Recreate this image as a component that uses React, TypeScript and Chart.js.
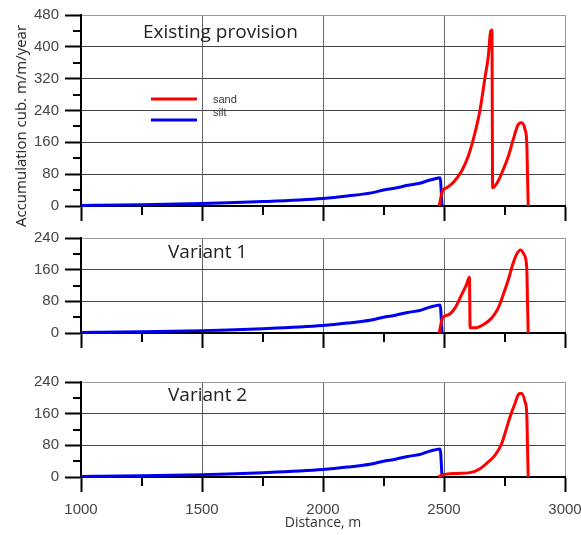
import React, { useEffect, useRef } from 'react';
import { Chart, registerables } from 'chart.js';

Chart.register(...registerables);

// ---- data ----
const xTickValues = [1000, 1500, 2000, 2500, 3000];
const xMinorTicks = [1250, 1750, 2250, 2750];
const yTicksTop = [0, 80, 160, 240, 320, 400, 480];
const yTicksLower = [0, 80, 160, 240];

const seriesNames = ['sand', 'silt'];
const panelTitles = ['Existing provision', 'Variant 1', 'Variant 2'];
const xAxisTitle = 'Distance, m';
const yAxisTitle = 'Accumulation cub. m/m/year';

const siltDistance = [1000, 1050, 1250, 1500, 1750, 2000, 2100, 2200, 2250, 2300, 2350, 2400, 2435, 2460, 2484, 2492];
const siltValues = [1, 2, 3, 6, 11, 19, 25, 33, 40, 45, 52, 57, 64, 68, 71, 0];

const sandExistingDistance = [2480, 2494, 2511, 2538, 2573, 2600, 2628, 2649, 2670, 2683, 2693, 2698, 2701, 2724, 2745, 2766, 2786, 2807, 2821, 2835, 2842, 2845, 2848];
const sandExistingValues = [0, 38, 46, 59, 88, 125, 184, 242, 325, 376, 440, 442, 46, 63, 92, 125, 167, 205, 209, 192, 159, 80, 0];

const sandVariant1Distance = [2480, 2494, 2518, 2545, 2573, 2593, 2605, 2608, 2628, 2662, 2697, 2724, 2745, 2766, 2786, 2803, 2817, 2831, 2842, 2845, 2848];
const sandVariant1Values = [0, 38, 46, 63, 97, 122, 141, 13, 13, 21, 38, 63, 97, 135, 177, 202, 210, 198, 164, 80, 0];

const sandVariant2Distance = [2476, 2497, 2552, 2607, 2649, 2683, 2711, 2738, 2756, 2773, 2793, 2811, 2821, 2835, 2842, 2845, 2848];
const sandVariant2Values = [0, 6, 9, 11, 21, 38, 55, 84, 118, 152, 185, 211, 211, 190, 160, 80, 0];

const RED = '#ff0000';
const BLUE = '#0000ee';

const toPoints = (xs: number[], ys: number[]) => xs.map((x, i) => ({ x, y: ys[i] }));

type Panel = {
  top: number;
  height: number;
  padTop: number;
  xAxisH: number;
  yTicks: number[];
  title: string;
  titleY: number;
  legend: boolean;
  xLabels: boolean;
  sandX: number[];
  sandY: number[];
};

const panels: Panel[] = [
  { top: 0, height: 225, padTop: 15, xAxisH: 19, yTicks: yTicksTop, title: panelTitles[0], titleY: 33, legend: true, xLabels: false, sandX: sandExistingDistance, sandY: sandExistingValues },
  { top: 225, height: 127, padTop: 13, xAxisH: 19, yTicks: yTicksLower, title: panelTitles[1], titleY: 28, legend: false, xLabels: false, sandX: sandVariant1Distance, sandY: sandVariant1Values },
  { top: 360, height: 175, padTop: 22, xAxisH: 58, yTicks: yTicksLower, title: panelTitles[2], titleY: 36, legend: false, xLabels: true, sandX: sandVariant2Distance, sandY: sandVariant2Values },
];

const decorPlugin = {
  id: 'decor',
  afterDraw(chart: any, _args: any, opts: any) {
    const { ctx, chartArea: a, scales } = chart;
    const x = scales.x;
    const y = scales.y;
    ctx.save();
    ctx.strokeStyle = '#000';
    ctx.lineWidth = 2;
    // minor ticks
    xMinorTicks.forEach((v) => {
      const px = Math.round(x.getPixelForValue(v));
      ctx.beginPath();
      ctx.moveTo(px, a.bottom + 1);
      ctx.lineTo(px, a.bottom + 9);
      ctx.stroke();
    });
    const yt: number[] = opts.yTicks;
    for (let i = 0; i < yt.length - 1; i++) {
      const py = Math.round(y.getPixelForValue((yt[i] + yt[i + 1]) / 2));
      ctx.beginPath();
      ctx.moveTo(a.left - 8, py);
      ctx.lineTo(a.left, py);
      ctx.stroke();
    }
    // panel title
    ctx.fillStyle = '#222';
    ctx.font = '19px "Open Sans"';
    ctx.textBaseline = 'middle';
    ctx.textAlign = 'left';
    ctx.fillText(opts.title, opts.titleX, opts.titleY);
    // legend
    if (opts.legend) {
      const ds = chart.data.datasets;
      ctx.lineWidth = 3;
      ctx.strokeStyle = ds[0].borderColor;
      ctx.beginPath();
      ctx.moveTo(151, 99);
      ctx.lineTo(197, 99);
      ctx.stroke();
      ctx.strokeStyle = ds[1].borderColor;
      ctx.beginPath();
      ctx.moveTo(151, 120);
      ctx.lineTo(197, 120);
      ctx.stroke();
      ctx.fillStyle = '#333';
      ctx.font = '11px "Liberation Sans", Arial, sans-serif';
      ctx.fillText(ds[0].label, 213, 100);
      ctx.fillText(ds[1].label, 213, 113);
    }
    ctx.restore();
  },
};

function buildConfig(p: Panel, titleX: number): any {
  const yMax = p.yTicks[p.yTicks.length - 1];
  return {
    type: 'line',
    data: {
      datasets: [
        {
          label: seriesNames[0],
          data: toPoints(p.sandX, p.sandY),
          borderColor: RED,
          borderWidth: 3,
          pointRadius: 0,
          cubicInterpolationMode: 'monotone',
          clip: false,
        },
        {
          label: seriesNames[1],
          data: toPoints(siltDistance, siltValues),
          borderColor: BLUE,
          borderWidth: 3,
          pointRadius: 0,
          cubicInterpolationMode: 'monotone',
          clip: false,
        },
      ],
    },
    options: {
      responsive: false,
      animation: false,
      devicePixelRatio: 1,
      layout: { padding: { top: p.padTop, right: 16, left: 0, bottom: 0 } },
      plugins: {
        legend: { display: false },
        tooltip: { enabled: false },
        decor: { title: p.title, titleX, titleY: p.titleY, legend: p.legend, yTicks: p.yTicks },
      },
      scales: {
        x: {
          type: 'linear',
          min: xTickValues[0],
          max: xTickValues[xTickValues.length - 1],
          afterBuildTicks: (s: any) => {
            s.ticks = xTickValues.map((v) => ({ value: v }));
          },
          afterFit: (s: any) => {
            s.height = p.xAxisH;
            s.paddingLeft = 0;
            s.paddingRight = 0;
          },
          border: { display: true, color: '#000', width: 2 },
          grid: {
            color: (c: any) => {
              const v = c.tick ? c.tick.value : null;
              if (v === xTickValues[0]) return 'rgba(0,0,0,0)';
              if (v === xTickValues[xTickValues.length - 1]) return '#9a9a9a';
              return '#666';
            },
            lineWidth: 1,
            tickLength: 15,
            tickColor: '#000',
            tickWidth: 2,
          },
          ticks: {
            display: p.xLabels,
            padding: 9,
            maxRotation: 0,
            color: '#444',
            font: { family: '"Liberation Sans", Arial, sans-serif', size: 15 },
            callback: (v: any) => String(v),
          },
          title: {
            display: p.xLabels,
            text: xAxisTitle,
            color: '#333',
            font: { family: '"Open Sans", sans-serif', size: 14 },
            padding: { top: 0, bottom: 4 },
          },
        },
        y: {
          type: 'linear',
          min: p.yTicks[0],
          max: yMax,
          afterBuildTicks: (s: any) => {
            s.ticks = p.yTicks.map((v) => ({ value: v }));
          },
          afterFit: (s: any) => {
            s.width = 81;
            s.paddingTop = 0;
            s.paddingBottom = 0;
          },
          border: { display: true, color: '#000', width: 2 },
          grid: {
            color: (c: any) => {
              const v = c.tick ? c.tick.value : null;
              if (v === 0) return '#000';
              if (v === yMax) return '#9a9a9a';
              return '#444';
            },
            lineWidth: 1,
            tickLength: 16,
            tickColor: '#000',
            tickWidth: 2,
          },
          ticks: {
            padding: 6,
            color: '#444',
            font: { family: '"Liberation Sans", Arial, sans-serif', size: 15 },
            callback: (v: any) => String(v),
          },
        },
      },
    },
    plugins: [decorPlugin],
  };
}

export default function App() {
  const r0 = useRef<HTMLCanvasElement>(null);
  const r1 = useRef<HTMLCanvasElement>(null);
  const r2 = useRef<HTMLCanvasElement>(null);
  const refs = [r0, r1, r2];
  const titleXs = [143, 168, 168];

  useEffect(() => {
    const charts = panels.map((p, i) => new Chart(refs[i].current as HTMLCanvasElement, buildConfig(p, titleXs[i])));
    return () => charts.forEach((c) => c.destroy());
  }, []);

  return (
    <div style={{ position: 'absolute', left: 0, top: 0, width: 581, height: 535, background: '#fff', overflow: 'hidden' }}>
      {panels.map((p, i) => (
        <canvas
          key={i}
          ref={refs[i]}
          width={581}
          height={p.height}
          style={{ position: 'absolute', left: 0, top: p.top, width: 581, height: p.height }}
        />
      ))}
      <div
        style={{
          position: 'absolute',
          left: 20,
          top: 126,
          transform: 'translate(-50%, -50%) rotate(-90deg)',
          whiteSpace: 'nowrap',
          font: '15px "Open Sans", sans-serif',
          color: '#222',
        }}
      >
        {yAxisTitle}
      </div>
    </div>
  );
}
